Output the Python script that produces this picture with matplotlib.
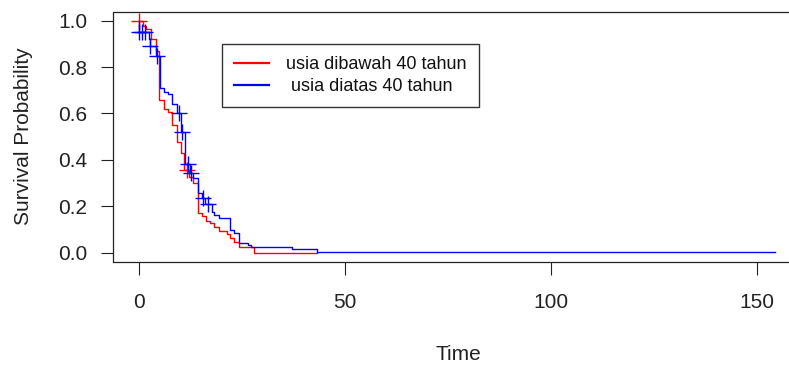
"""Kaplan-Meier style survival curves by age group (under / over 40)."""

import matplotlib

matplotlib.use("Agg")

import matplotlib.pyplot as plt
from matplotlib.lines import Line2D

# step curves (time, survival after the step)
UNDER40_TIME = [0, 1.0, 1.8, 3.0, 4.0, 4.9, 6.1, 7.1, 8.0, 9.1, 10.1, 11.0, 12.2, 13.2,
                14.2, 15.2, 16.2, 17.2, 18.2, 19.3, 21.3, 22.2, 23.1, 24.3, 28.0, 43.1]
UNDER40_SURV = [1.0, 0.978, 0.966, 0.92, 0.87, 0.657, 0.62, 0.607, 0.55, 0.478, 0.428, 0.356, 0.324, 0.298,
                0.169, 0.157, 0.137, 0.126, 0.111, 0.093, 0.080, 0.061, 0.047, 0.022, 0.0, 0.0]
UNDER40_CENS_TIME = [0.0, 11.6]
UNDER40_CENS_SURV = [1.0, 0.356]

OVER40_TIME = [0, 2.3, 2.6, 4.0, 5.1, 6.1, 7.1, 8.1, 9.1, 10.1, 11.2, 12.4, 13.2, 14.2,
               15.2, 16.1, 17.8, 18.3, 19.3, 22.2, 23.1, 24.3, 26.4, 27.3, 37.1, 43.1, 154.5]
OVER40_SURV = [0.95, 0.92, 0.89, 0.846, 0.708, 0.693, 0.686, 0.643, 0.60, 0.52, 0.38, 0.345, 0.32, 0.255,
               0.235, 0.21, 0.176, 0.162, 0.147, 0.097, 0.085, 0.04, 0.032, 0.025, 0.015, 0.004, 0.004]
OVER40_CENS_TIME = [0.0, 0.7, 1.5, 2.7, 4.3, 9.8, 10.5, 12.0, 12.6, 15.6, 16.8]
OVER40_CENS_SURV = [0.95, 0.95, 0.95, 0.89, 0.846, 0.60, 0.52, 0.38, 0.345, 0.235, 0.21]

LABELS = ["usia dibawah 40 tahun", " usia diatas 40 tahun"]
X_TICKS = [0, 50, 100, 150]
Y_TICKS = [0.0, 0.2, 0.4, 0.6, 0.8, 1.0]

RED = "#FF0000"
BLUE = "#0000FF"

plt.rcParams.update(
    {
        "font.family": ["Liberation Sans", "DejaVu Sans"],
        "axes.linewidth": 0.9,
        "axes.edgecolor": "#222222",
    }
)

fig = plt.figure(figsize=(7.89, 3.65), dpi=100)
fig.patch.set_facecolor("white")
W, H = 789, 365
ax = fig.add_axes([113.5 / W, 1 - 261.8 / H, (803 - 113.5) / W, (261.8 - 11.5) / H])

for times, surv, ct, cs, color in [
    (UNDER40_TIME, UNDER40_SURV, UNDER40_CENS_TIME, UNDER40_CENS_SURV, RED),
    (OVER40_TIME, OVER40_SURV, OVER40_CENS_TIME, OVER40_CENS_SURV, BLUE),
]:
    ax.step(times, surv, where="post", color=color, linewidth=1.0)
    # draw the initial drop from 1.0 at t=0
    ax.plot([times[0], times[0]], [1.0, surv[0]], color=color, linewidth=1.0)
    ax.plot(ct, cs, linestyle="none", marker="+", markersize=11, markeredgewidth=1.0, color=color)

ax.set_xlim(-6.2, 161.2)
ax.set_ylim(-0.04, 1.04)
ax.set_xticks(X_TICKS)
ax.set_xticklabels([str(t) for t in X_TICKS])
ax.set_yticks(Y_TICKS)
ax.set_yticklabels([f"{v:.1f}" for v in Y_TICKS])
ax.tick_params(axis="both", direction="out", length=9, width=0.8, labelsize=15,
               color="#222222", labelcolor="#222222")
ax.tick_params(axis="x", pad=13.5)
ax.tick_params(axis="y", pad=10)
ax.set_xlabel("Time", fontsize=15, labelpad=24, color="#222222")
ax.set_ylabel("Survival Probability", fontsize=15, labelpad=18, color="#222222")

handles = [Line2D([], [], color=RED, linewidth=1.6), Line2D([], [], color=BLUE, linewidth=1.6)]
leg = ax.legend(
    handles,
    LABELS,
    loc="upper left",
    bbox_to_anchor=(222 / W, 1 - 44 / H),
    bbox_transform=fig.transFigure,
    borderaxespad=0,
    fancybox=False,
    frameon=True,
    edgecolor="black",
    fontsize=13.0,
    handlelength=1.9,
    handletextpad=0.95,
    borderpad=0.68,
    labelspacing=0.27,
)
leg.get_frame().set_linewidth(1.0)
for text in leg.get_texts():
    text.set_color("#111111")

fig.savefig("out.png", dpi=100, facecolor="white")
